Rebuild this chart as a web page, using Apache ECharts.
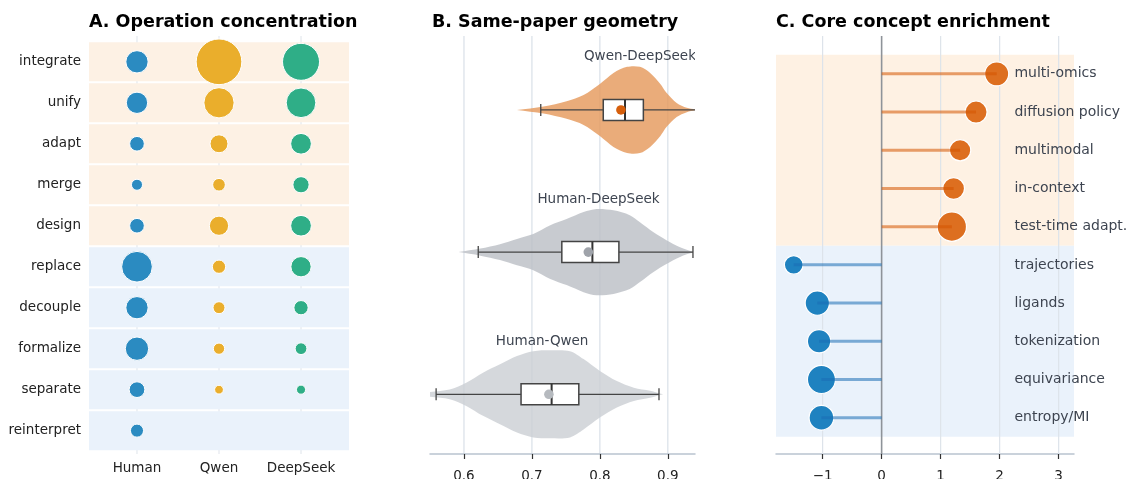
<!DOCTYPE html>
<html>
<head>
<meta charset="utf-8">
<script src="https://cdn.jsdelivr.net/npm/echarts@6/dist/echarts.min.js"></script>
<style>
  html, body { margin: 0; padding: 0; background: #fff; }
  #main { width: 1129px; height: 479px; }
</style>
</head>
<body>
<div id="main"></div>
<script>
// panel A: operation share (%) by source
var operations = ['integrate', 'unify', 'adapt', 'merge', 'design', 'replace', 'decouple', 'formalize', 'separate', 'reinterpret'];
var opSide = ['model', 'model', 'model', 'model', 'model', 'human', 'human', 'human', 'human', 'human'];
var sources = ['Human', 'Qwen', 'DeepSeek'];
var humanShare = [9.0, 8.2, 3.7, 2.0, 3.7, 17.5, 9.0, 9.9, 4.3, 2.9];
var qwenShare = [39.6, 17.0, 5.7, 2.7, 6.6, 3.0, 2.4, 2.1, 1.2, 0];
var deepseekShare = [25.7, 16.3, 7.7, 4.6, 7.7, 7.4, 3.5, 2.3, 1.3, 0];

// panel B: same-paper similarity, density profile + box stats
var pairs = ['Qwen-DeepSeek', 'Human-DeepSeek', 'Human-Qwen'];
var qdX = [0.678, 0.717, 0.751, 0.776, 0.800, 0.820, 0.840, 0.859, 0.874, 0.889, 0.898, 0.913, 0.928, 0.940];
var qdD = [0, 0.08, 0.20, 0.34, 0.59, 0.84, 0.98, 0.98, 0.84, 0.59, 0.39, 0.16, 0.05, 0.01];
var hdX = [0.592, 0.624, 0.653, 0.678, 0.702, 0.727, 0.751, 0.776, 0.795, 0.820, 0.844, 0.859, 0.879, 0.898, 0.918, 0.938];
var hdD = [0, 0.08, 0.18, 0.30, 0.41, 0.61, 0.75, 0.91, 0.98, 0.95, 0.84, 0.68, 0.45, 0.27, 0.11, 0];
var hqX = [0.540, 0.579, 0.604, 0.628, 0.653, 0.678, 0.702, 0.727, 0.756, 0.776, 0.800, 0.825, 0.850, 0.874, 0.893];
var hqD = [0.03, 0.11, 0.27, 0.49, 0.68, 0.87, 0.98, 1.0, 0.98, 0.80, 0.53, 0.30, 0.15, 0.08, 0];
var whiskerLo = [0.713, 0.621, 0.559];
var q1 = [0.805, 0.744, 0.684];
var median = [0.837, 0.789, 0.729];
var q3 = [0.864, 0.828, 0.769];
var whiskerHi = [0.946, 0.937, 0.887];
var meanVal = [0.831, 0.783, 0.725];
var labelAt = [0.859, 0.798, 0.715];
var bTicks = [0.6, 0.7, 0.8, 0.9];

// panel C: concept enrichment (log ratio) and counts
var concepts = ['multi-omics', 'diffusion policy', 'multimodal', 'in-context', 'test-time adapt.', 'trajectories', 'ligands', 'tokenization', 'equivariance', 'entropy/MI'];
var enrichment = [1.95, 1.60, 1.33, 1.22, 1.19, -1.49, -1.09, -1.06, -1.02, -1.02];
var conceptCount = [85, 71, 66, 69, 128, 50, 87, 80, 117, 90];
var cTicks = [-1, 0, 1, 2, 3];

var FONT = 'DejaVu Sans';
var srcColors = ['#2b8bc1', '#eaae2c', '#2fae87'];
var densX = [qdX, hdX, hqX];
var densD = [qdD, hdD, hqD];
var violinFill = ['rgba(229,151,89,0.8)', 'rgba(186,190,196,0.8)', 'rgba(202,206,211,0.8)'];
var meanColor = ['#d65f0c', '#9fa3aa', '#b6babf'];

function gridLines(color, width, zeroColor) {
    return function (params, api) {
        var cs = params.coordSys;
        var v = api.value(0);
        var x = api.coord([v, 0])[0];
        var isZero = zeroColor && v === 0;
        return {
            type: 'line',
            shape: { x1: x, y1: cs.y, x2: x, y2: cs.y + cs.height },
            style: { stroke: isZero ? zeroColor : color, lineWidth: isZero ? 1.6 : width }
        };
    };
}

function renderBandA(params, api) {
    var cs = params.coordSys;
    var i = params.dataIndex;
    var y0 = api.coord([0, i - 0.5])[1];
    var y1 = api.coord([0, i + 0.5])[1];
    return {
        type: 'rect',
        shape: { x: cs.x, y: y0 + 1, width: cs.width, height: y1 - y0 - 2 },
        style: { fill: opSide[i] === 'model' ? '#fdf1e4' : '#eaf2fb' }
    };
}

function renderViolin(params, api) {
    var k = params.dataIndex;
    var cy = api.coord([0.7, k])[1];
    var xs = densX[k], ds = densD[k];
    var half = 44;
    var pts = [];
    for (var j = 0; j < xs.length; j++) {
        pts.push([api.coord([xs[j], k])[0], cy - ds[j] * half]);
    }
    for (var j = xs.length - 1; j >= 0; j--) {
        pts.push([api.coord([xs[j], k])[0], cy + ds[j] * half]);
    }
    var xLo = api.coord([whiskerLo[k], k])[0];
    var xHi = api.coord([whiskerHi[k], k])[0];
    var xQ1 = api.coord([q1[k], k])[0];
    var xQ3 = api.coord([q3[k], k])[0];
    var xMed = api.coord([median[k], k])[0];
    var xMean = api.coord([meanVal[k], k])[0];
    var xLab = api.coord([labelAt[k], k])[0];
    var edge = '#444444';
    return {
        type: 'group',
        children: [
            { type: 'polygon', shape: { points: pts, smooth: 0.3 }, style: { fill: violinFill[k] } },
            { type: 'line', shape: { x1: xLo, y1: cy, x2: xHi, y2: cy }, style: { stroke: edge, lineWidth: 1.3 } },
            { type: 'line', shape: { x1: xLo, y1: cy - 6, x2: xLo, y2: cy + 6 }, style: { stroke: edge, lineWidth: 1.3 } },
            { type: 'line', shape: { x1: xHi, y1: cy - 6, x2: xHi, y2: cy + 6 }, style: { stroke: edge, lineWidth: 1.3 } },
            { type: 'rect', shape: { x: xQ1, y: cy - 10.5, width: xQ3 - xQ1, height: 21 }, style: { fill: '#fff', stroke: edge, lineWidth: 1.5 } },
            { type: 'line', shape: { x1: xMed, y1: cy - 10.5, x2: xMed, y2: cy + 10.5 }, style: { stroke: '#333', lineWidth: 2 } },
            { type: 'circle', shape: { cx: xMean, cy: cy, r: 4.8 }, style: { fill: meanColor[k] } },
            {
                type: 'text',
                style: {
                    text: pairs[k], x: xLab, y: cy - half - 2,
                    align: 'center', verticalAlign: 'bottom',
                    fill: '#3d4450', fontSize: 13.5, fontFamily: FONT
                }
            }
        ]
    };
}

var nPos = enrichment.filter(function (v) { return v > 0; }).length;
var cSpans = [[-0.5, nPos - 0.5], [nPos - 0.5, enrichment.length - 0.5]];

function renderBandC(params, api) {
    var cs = params.coordSys;
    var s = cSpans[params.dataIndex];
    var y0 = api.coord([0, s[0]])[1];
    var y1 = api.coord([0, s[1]])[1];
    return {
        type: 'rect',
        shape: { x: cs.x, y: y0, width: cs.width, height: y1 - y0 },
        style: { fill: params.dataIndex === 0 ? '#fef1e3' : '#eaf2fb' }
    };
}

function renderStem(params, api) {
    var i = params.dataIndex;
    var p0 = api.coord([0, i]);
    var p1 = api.coord([enrichment[i], i]);
    var lab = api.coord([2.25, i]);
    return {
        type: 'group',
        children: [
            {
                type: 'line',
                shape: { x1: p0[0], y1: p0[1], x2: p1[0], y2: p1[1] },
                style: { stroke: enrichment[i] > 0 ? 'rgba(211,84,0,0.55)' : 'rgba(25,110,180,0.55)', lineWidth: 3 }
            },
            {
                type: 'text',
                style: {
                    text: concepts[i], x: lab[0], y: lab[1],
                    align: 'left', verticalAlign: 'middle',
                    fill: '#3d4450', fontSize: 14, fontFamily: FONT
                }
            }
        ]
    };
}

function shareSeries(idx, values) {
    var data = [];
    values.forEach(function (v, i) {
        if (v > 0) data.push([idx, i, v]);
    });
    return {
        type: 'scatter', xAxisIndex: 0, yAxisIndex: 0, z: 3,
        data: data,
        symbolSize: function (d) { return Math.sqrt(d[2]) * 7.1 + 1; },
        itemStyle: { color: srcColors[idx], borderColor: '#fff', borderWidth: 1, opacity: 1 },
        emphasis: { disabled: true }
    };
}

var tickLabel = { color: '#222', fontSize: 13.5, fontFamily: FONT };
var titleStyle = { fontSize: 17.5, fontWeight: 'bold', color: '#000', fontFamily: FONT };

var chart = echarts.init(document.getElementById('main'));
var option = {
    animation: false,
    backgroundColor: '#fff',
    textStyle: { fontFamily: FONT },
    title: [
        { text: 'A. Operation concentration', left: 89, top: 13, padding: 0, textStyle: titleStyle },
        { text: 'B. Same-paper geometry', left: 432, top: 13, padding: 0, textStyle: titleStyle },
        { text: 'C. Core concept enrichment', left: 776, top: 13, padding: 0, textStyle: titleStyle }
    ],
    grid: [
        { left: 89, width: 260, top: 36, bottom: 25, outerBoundsMode: 'none' },
        { left: 430, width: 265, top: 36, bottom: 25, outerBoundsMode: 'none' },
        { left: 776, width: 298, top: 36, bottom: 25, outerBoundsMode: 'none' }
    ],
    xAxis: [
        {
            gridIndex: 0, type: 'value', min: -0.585, max: 2.585,
            axisLine: { show: false }, axisTick: { show: false }, splitLine: { show: false },
            axisLabel: Object.assign({ customValues: [0, 1, 2], margin: 7, formatter: function (v) { return sources[Math.round(v)]; } }, tickLabel)
        },
        {
            gridIndex: 1, type: 'value', min: 0.55, max: 0.94,
            axisLine: { show: true, onZero: false, lineStyle: { color: '#b9c4d0', width: 1.5 } },
            axisTick: { show: true, customValues: bTicks, length: 5, lineStyle: { color: '#333', width: 1.2 } },
            splitLine: { show: false },
            axisLabel: Object.assign({ customValues: bTicks, margin: 15, formatter: function (v) { return v.toFixed(1); } }, tickLabel)
        },
        {
            gridIndex: 2, type: 'value', min: -1.79, max: 3.26,
            axisLine: { show: true, onZero: false, lineStyle: { color: '#b9c4d0', width: 1.5 } },
            axisTick: { show: true, customValues: cTicks, length: 5, lineStyle: { color: '#333', width: 1.2 } },
            splitLine: { show: false },
            axisLabel: Object.assign({ customValues: cTicks, margin: 15, formatter: function (v) { return v < 0 ? '\u2212' + Math.abs(v) : String(v); } }, tickLabel)
        }
    ],
    yAxis: [
        {
            gridIndex: 0, type: 'value', min: -0.63, max: 9.57, inverse: true,
            axisLine: { show: false }, axisTick: { show: false }, splitLine: { show: false },
            axisLabel: Object.assign({ customValues: [0, 1, 2, 3, 4, 5, 6, 7, 8, 9], margin: 8, formatter: function (v) { return operations[Math.round(v)]; } }, tickLabel)
        },
        { gridIndex: 1, type: 'value', min: -0.52, max: 2.42, inverse: true, show: false },
        { gridIndex: 2, type: 'value', min: -0.99, max: 9.95, inverse: true, show: false }
    ],
    series: [
        // panel A
        {
            type: 'custom', xAxisIndex: 0, yAxisIndex: 0, z: 0, silent: true,
            data: [[0, 0], [1, 0], [2, 0]], renderItem: gridLines('#e4e8ee', 1.2)
        },
        {
            type: 'custom', xAxisIndex: 0, yAxisIndex: 0, z: 1, silent: true,
            data: operations.map(function (o, i) { return [0, i]; }), renderItem: renderBandA
        },
        shareSeries(0, humanShare),
        shareSeries(1, qwenShare),
        shareSeries(2, deepseekShare),
        // panel B
        {
            type: 'custom', xAxisIndex: 1, yAxisIndex: 1, z: 0, silent: true,
            data: bTicks.map(function (t) { return [t, 0]; }), renderItem: gridLines('#d9e0e8', 1.2)
        },
        {
            type: 'custom', xAxisIndex: 1, yAxisIndex: 1, z: 2, silent: true, clip: true,
            data: pairs.map(function (p, k) { return [median[k], k]; }), renderItem: renderViolin
        },
        // panel C
        {
            type: 'custom', xAxisIndex: 2, yAxisIndex: 2, z: 0, silent: true,
            data: cSpans.map(function (s) { return [0, s[0]]; }), renderItem: renderBandC
        },
        {
            type: 'custom', xAxisIndex: 2, yAxisIndex: 2, z: 1, silent: true,
            data: cTicks.map(function (t) { return [t, 0]; }), renderItem: gridLines('#dde3ea', 1.2, '#8e9399')
        },
        {
            type: 'scatter', xAxisIndex: 2, yAxisIndex: 2, z: 3,
            data: enrichment.map(function (v, i) { return [v, i, conceptCount[i]]; }),
            symbolSize: function (d) { return Math.sqrt(d[2]) * 2.5 + 1; },
            itemStyle: {
                color: function (p) { return p.data[0] > 0 ? '#dd6f20' : '#1f82c0'; },
                borderColor: '#fff', borderWidth: 1.2, opacity: 1
            },
            emphasis: { disabled: true }
        },
        {
            type: 'custom', xAxisIndex: 2, yAxisIndex: 2, z: 4, silent: true,
            data: enrichment.map(function (v, i) { return [v, i]; }), renderItem: renderStem
        }
    ]
};
chart.setOption(option);
</script>
</body>
</html>
